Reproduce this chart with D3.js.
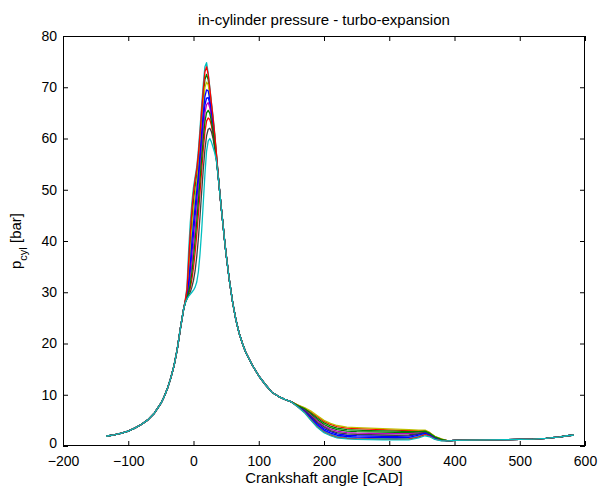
<!DOCTYPE html>
<html>
<head>
<meta charset="utf-8">
<script src="https://cdn.jsdelivr.net/npm/d3@7"></script>
<style>
  body { margin: 0; background: #fff; }
  text { font-family: "Liberation Sans", Arial, Helvetica, sans-serif; }
</style>
</head>
<body>
<div id="chart"></div>
<script>
// compression stroke, same for every cycle
const compressionCad = [-134, -120, -110, -100, -90, -80, -70, -60, -50, -45, -40, -35, -30, -25, -20, -15];
const compressionP = [1.9, 2.2, 2.5, 2.9, 3.5, 4.2, 5.1, 6.4, 8.3, 9.6, 11.2, 13.2, 15.6, 18.8, 23.0, 26.8];

// combustion, one array per cycle (in drawing order)
const combustionCad = [-12.5, -10, -7.5, -5, -2.5, 0, 2.5, 5, 7.5, 10, 12.5, 15, 17.5, 20, 22.5, 25, 27.5, 30, 32.5, 35, 37.5];
const combustionP = [
    [28.1, 29.2, 31.0, 33.8, 37.5, 41.2, 44.8, 48.0, 51.5, 55.5, 59.5, 63.3, 66.5, 67.9, 68.0, 66.8, 64.6, 62.2, 59.5, 56.4, 53.2],
    [28.4, 30.0, 34.5, 39.5, 44.0, 47.8, 50.5, 53.0, 56.0, 60.0, 64.0, 68.0, 71.5, 72.5, 71.5, 69.2, 66.4, 63.6, 60.5, 57.0, 53.3],
    [28.0, 28.8, 29.7, 30.8, 32.5, 34.8, 37.8, 41.3, 45.3, 49.5, 53.8, 57.8, 61.3, 63.4, 64.0, 63.7, 62.5, 60.7, 58.5, 56.0, 53.0],
    [28.6, 31.0, 38.0, 43.5, 47.5, 50.5, 52.5, 54.5, 57.8, 62.0, 66.5, 70.6, 74.0, 74.8, 72.8, 70.0, 67.0, 64.3, 61.0, 57.3, 53.5],
    [28.1, 29.0, 30.4, 32.5, 35.5, 39.0, 42.5, 46.0, 49.8, 53.8, 57.8, 61.8, 65.0, 66.6, 67.0, 66.0, 64.0, 61.8, 59.2, 56.3, 53.1],
    [28.3, 29.7, 33.0, 37.5, 42.0, 45.8, 48.8, 51.5, 54.5, 58.5, 62.5, 66.5, 70.0, 71.0, 70.5, 68.5, 65.8, 63.2, 60.2, 56.8, 53.3],
    [28.0, 28.7, 29.4, 30.0, 31.0, 32.3, 34.2, 37.0, 40.5, 44.8, 49.5, 54.0, 57.8, 60.5, 61.8, 62.0, 61.3, 60.0, 58.0, 55.9, 53.0],
    [28.2, 29.4, 31.8, 35.5, 39.8, 43.5, 46.8, 49.8, 53.0, 57.0, 61.0, 65.0, 68.2, 69.5, 69.3, 67.6, 65.2, 62.7, 59.8, 56.6, 53.2],
    [28.0, 28.9, 30.0, 31.5, 33.8, 36.8, 40.2, 43.8, 47.8, 52.0, 56.0, 60.0, 63.3, 65.0, 65.5, 64.9, 63.3, 61.3, 58.8, 56.1, 53.1],
    [28.5, 30.5, 36.0, 41.5, 46.0, 49.5, 52.0, 54.0, 57.0, 61.0, 65.5, 69.5, 73.0, 74.0, 72.5, 69.8, 66.8, 64.0, 60.8, 57.2, 53.4],
    [28.0, 28.7, 29.2, 29.6, 30.0, 30.4, 31.0, 32.0, 34.0, 37.5, 42.0, 47.5, 53.0, 57.5, 59.5, 60.0, 59.3, 58.3, 57.2, 55.8, 53.0]
];

// expansion stroke, same for every cycle
const expansionCad = [40, 42.5, 45, 47.5, 50, 55, 60, 65, 70, 75, 80, 90, 100, 110, 120, 130, 140, 150];
const expansionP = [49.8, 46.5, 43.5, 40.3, 37.4, 32.3, 28.0, 24.6, 22.0, 20.0, 18.3, 15.8, 13.7, 12.0, 10.5, 9.7, 9.1, 8.6];

// blowdown / exhaust, one array per cycle (same order as combustionP)
const blowdownCad = [160, 170, 180, 190, 200, 210, 220, 235, 250, 270, 290, 310, 330, 345, 355, 362, 370, 380];
const blowdownP = [
    [7.8, 6.9, 5.6, 4.4, 3.4, 2.8, 2.35, 2.1, 2.0, 1.95, 1.9, 1.9, 1.95, 2.3, 2.6, 2.2, 1.6, 1.2],
    [7.9, 7.2, 6.2, 5.1, 4.2, 3.6, 3.2, 2.9, 2.8, 2.75, 2.7, 2.65, 2.6, 2.7, 2.85, 2.4, 1.7, 1.3],
    [8.0, 7.4, 6.6, 5.7, 4.8, 4.2, 3.8, 3.5, 3.4, 3.3, 3.2, 3.1, 3.0, 3.0, 3.0, 2.6, 1.8, 1.35],
    [7.7, 6.7, 5.3, 3.9, 2.9, 2.3, 1.9, 1.65, 1.55, 1.5, 1.5, 1.45, 1.5, 1.9, 2.35, 2.0, 1.4, 1.1],
    [7.9, 7.1, 6.0, 4.9, 3.9, 3.3, 2.9, 2.6, 2.5, 2.45, 2.4, 2.4, 2.4, 2.55, 2.8, 2.4, 1.7, 1.25],
    [8.0, 7.5, 6.8, 5.9, 5.0, 4.4, 4.0, 3.7, 3.6, 3.5, 3.4, 3.3, 3.2, 3.1, 3.1, 2.6, 1.9, 1.4],
    [7.8, 7.0, 5.8, 4.6, 3.7, 3.0, 2.6, 2.35, 2.25, 2.2, 2.15, 2.1, 2.15, 2.4, 2.7, 2.3, 1.6, 1.2],
    [7.7, 6.8, 5.5, 4.1, 3.1, 2.5, 2.1, 1.85, 1.75, 1.7, 1.7, 1.65, 1.7, 2.1, 2.5, 2.1, 1.5, 1.15],
    [7.9, 7.3, 6.4, 5.4, 4.5, 3.9, 3.5, 3.2, 3.1, 3.0, 2.95, 2.9, 2.8, 2.8, 2.9, 2.5, 1.8, 1.3],
    [7.6, 6.6, 5.1, 3.7, 2.7, 2.1, 1.7, 1.5, 1.4, 1.35, 1.3, 1.3, 1.35, 1.75, 2.2, 1.9, 1.35, 1.05],
    [7.6, 6.5, 5.0, 3.6, 2.6, 2.0, 1.6, 1.4, 1.3, 1.25, 1.2, 1.2, 1.2, 1.6, 2.0, 1.8, 1.3, 1.0]
];

// intake stroke, same for every cycle
const intakeCad = [390, 400, 420, 450, 480, 500, 520, 540, 550, 560, 570, 583];
const intakeP = [1.0, 1.1, 1.15, 1.2, 1.25, 1.3, 1.35, 1.5, 1.65, 1.75, 1.95, 2.15];

const xTicks = [-200, -100, 0, 100, 200, 300, 400, 500, 600];
const yTicks = [0, 10, 20, 30, 40, 50, 60, 70, 80];

// matlab default line colours
const lineColors = ["#0000ff", "#008000", "#ff0000", "#00bfbf", "#bf00bf", "#bfbf00", "#404040"];

const W = 598, H = 489;
const margin = {top: 36, right: 13, bottom: 43, left: 63},
    width = W - margin.left - margin.right,
    height = H - margin.top - margin.bottom;

const svg = d3.select("#chart").append("svg")
    .attr("width", W)
    .attr("height", H)
    .style("background", "#fff");

const g = svg.append("g")
    .attr("transform", "translate(" + margin.left + "," + margin.top + ")");

const x = d3.scaleLinear().domain([-200, 600]).range([0, width]);
const y = d3.scaleLinear().domain([0, 80]).range([height, 0]);

// build one polyline per cycle
function pairs(cad, p) {
    return cad.map(function (c, i) { return [c, p[i]]; });
}
const cycles = combustionP.map(function (cp, i) {
    return pairs(compressionCad, compressionP)
        .concat(pairs(combustionCad, cp))
        .concat(pairs(expansionCad, expansionP))
        .concat(pairs(blowdownCad, blowdownP[i]))
        .concat(pairs(intakeCad, intakeP));
});

const line = d3.line()
    .x(function (d) { return x(d[0]); })
    .y(function (d) { return y(d[1]); });

g.selectAll(".cycle")
    .data(cycles)
    .enter().append("path")
    .attr("class", "cycle")
    .attr("fill", "none")
    .attr("stroke", function (d, i) { return lineColors[i % lineColors.length]; })
    .attr("stroke-width", 1.3)
    .attr("stroke-linejoin", "round")
    .attr("d", line);

// axes, ticks pointing inward like matlab
const xAxis = g.append("g")
    .attr("transform", "translate(0," + height + ")")
    .call(d3.axisBottom(x).tickValues(xTicks).tickSizeInner(-5).tickSizeOuter(0).tickPadding(10));
const yAxis = g.append("g")
    .call(d3.axisLeft(y).tickValues(yTicks).tickSizeInner(-5).tickSizeOuter(0).tickPadding(6));
g.append("g")
    .call(d3.axisTop(x).tickValues(xTicks).tickSizeInner(-5).tickSizeOuter(0).tickFormat(""));
g.append("g")
    .attr("transform", "translate(" + width + ",0)")
    .call(d3.axisRight(y).tickValues(yTicks).tickSizeInner(-5).tickSizeOuter(0).tickFormat(""));

g.selectAll(".domain").remove();
g.selectAll(".tick line").attr("stroke", "#000");
g.selectAll(".tick text")
    .attr("fill", "#000")
    .style("font-size", "14px")
    .style("font-family", "'Liberation Sans', Arial, sans-serif");
// lift the "0" a little so it clears "-200", as in the reference
yAxis.selectAll(".tick text").filter(function (d) { return d === 0; }).attr("dy", "0.1em");

g.append("rect")
    .attr("x", 0.5).attr("y", 0.5)
    .attr("width", width - 1).attr("height", height - 1)
    .attr("fill", "none")
    .attr("stroke", "#000")
    .attr("stroke-width", 1);

// title and labels
svg.append("text")
    .attr("x", margin.left + width / 2)
    .attr("y", 25)
    .attr("text-anchor", "middle")
    .style("font-size", "15px")
    .text("in-cylinder pressure - turbo-expansion");

svg.append("text")
    .attr("x", margin.left + width / 2)
    .attr("y", 483)
    .attr("text-anchor", "middle")
    .style("font-size", "15px")
    .text("Crankshaft angle [CAD]");

const ylab = svg.append("text")
    .attr("transform", "translate(21," + (margin.top + height / 2) + ") rotate(-90)")
    .attr("text-anchor", "middle")
    .style("font-size", "15px");
ylab.append("tspan").text("p");
ylab.append("tspan").attr("baseline-shift", "sub").style("font-size", "11px").text("cyl");
ylab.append("tspan").text(" [bar]");
</script>
</body>
</html>
